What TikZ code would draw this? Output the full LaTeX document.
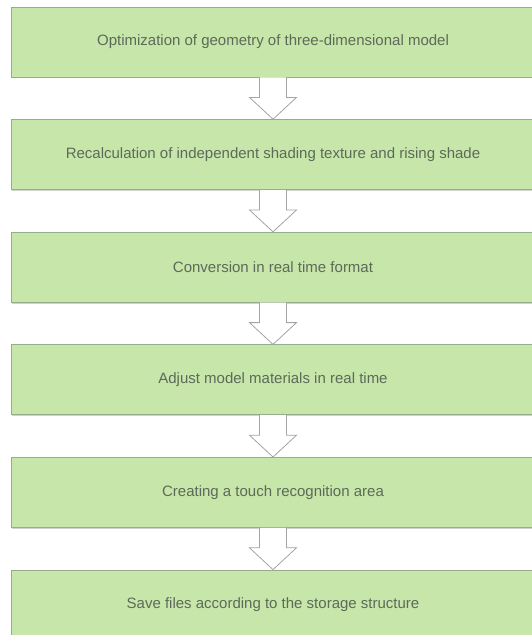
\documentclass[tikz,border=0pt]{standalone}
\usepackage{fontspec}
\setmainfont{Liberation Sans}
\usetikzlibrary{positioning,calc,shadows}
\definecolor{boxgreen}{HTML}{C6E6AA}
\definecolor{boxline}{HTML}{97AC8B}
\definecolor{boxtext}{HTML}{5E6A59}
\definecolor{arrline}{HTML}{A4A4A4}

\begin{document}
\begin{tikzpicture}[x=1pt,y=-1pt,
    stage/.style={draw=boxline, fill=boxgreen, text=boxtext, line width=0.8pt,
      minimum width=524pt, minimum height=70pt, inner sep=0pt,
      font=\fontsize{15}{17}\selectfont,
      drop shadow={shadow xshift=0.8pt, shadow yshift=-1.3pt, opacity=0.3, fill=black!60}},
    blockarrow/.style={draw=arrline, fill=white, line width=0.8pt, line join=miter}]
  \useasboundingbox (0,0) rectangle (531,635);
  \def\sw{13.5} % half shaft width
  \def\hw{23.5} % half head width
  \def\sl{20}   % shaft length
  % stages
  \node[stage] (s1) at (273,42) {Optimization of geometry of three-dimensional model};
  \node[stage, below=41.8pt of s1] (s2) {Recalculation of independent shading texture and rising shade};
  \node[stage, below=41.8pt of s2] (s3) {Conversion in real time format};
  \node[stage, below=41.8pt of s3] (s4) {Adjust model materials in real time};
  \node[stage, below=41.8pt of s4] (s5) {Creating a touch recognition area};
  \node[stage, below=41.8pt of s5] (s6) {Save files according to the storage structure};
  % block arrows
  \foreach \a/\b in {s1/s2,s2/s3,s3/s4,s4/s5,s5/s6}{
    \draw[blockarrow] ($(\a.south)+(-\sw,0)$) -- ($(\a.south)+(-\sw,\sl)$)
      -- ($(\a.south)+(-\hw,\sl)$) -- (\b.north) -- ($(\a.south)+(\hw,\sl)$)
      -- ($(\a.south)+(\sw,\sl)$) -- ($(\a.south)+(\sw,0)$);
  }
\end{tikzpicture}
\end{document}
